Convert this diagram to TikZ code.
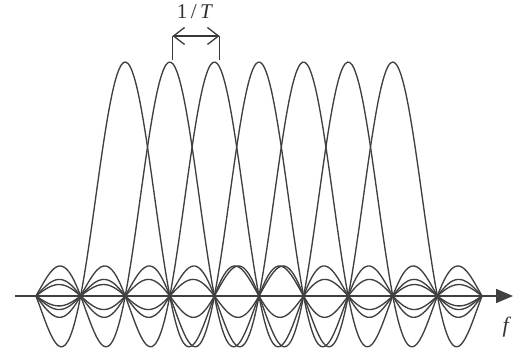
\documentclass[tikz,border=0pt]{standalone}
\usepackage{fontspec}
\setmainfont{Liberation Serif}
\usetikzlibrary{arrows.meta}
\tikzset{
  curve/.style={draw=black!75, line width=1.35pt, line join=round},
  axisline/.style={draw=black!75, line width=1.6pt, -{Triangle[length=17pt,width=14pt]}},
  guide/.style={draw=black!78, line width=1.3pt},
  span/.style={draw=black!78, line width=1.3pt, {Straight Barb[length=11pt,width=17pt]}-{Straight Barb[length=11pt,width=17pt]}},
  lbl/.style={font=\fontsize{21}{23}\selectfont, inner sep=0pt, text=black!80}
}
\begin{document}
\begin{tikzpicture}[x=1pt,y=1pt]
\useasboundingbox (0,0) rectangle (513,352);
% sinc curves
\foreach \k in {0,...,6}{
  \draw[curve] plot[domain=-2:8, samples=200, smooth]
    ({125.2+44.6*\x}, {56+234*sin(180*(\x-\k))/(3.14159*(\x-\k))});
}
% axis
\coordinate (a0) at (15,56);
\coordinate (a1) at (513,56);
\draw[axisline] (a0) -- (a1);
\node[lbl, font=\fontsize{22}{24}\selectfont] (f) at (507,25) {\textit{f}};
% 1/T marker
\coordinate (p1) at (172.5,292);
\coordinate (p2) at (219.5,292);
\coordinate (q1) at (172.5,316);
\coordinate (q2) at (219.5,316);
\draw[guide] (p1) -- (q1);
\draw[guide] (p2) -- (q2);
\draw[span] (q1) -- (q2);
\node[lbl] (T) at (195,340) {1\,/\,\textit{T}};
\end{tikzpicture}
\end{document}
